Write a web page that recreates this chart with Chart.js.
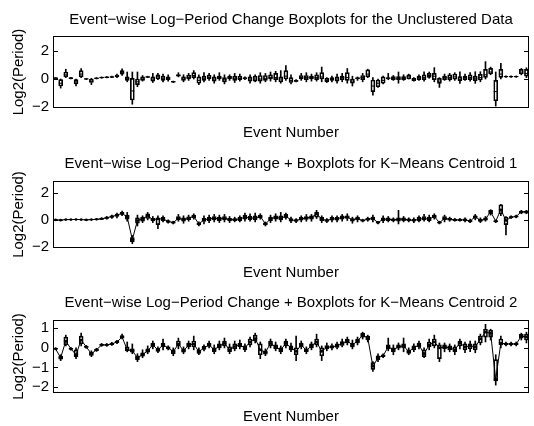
<!DOCTYPE html>
<html>
<head>
<meta charset="utf-8">
<script src="https://cdn.jsdelivr.net/npm/chart.js@4.4.0/dist/chart.umd.min.js"></script>
<style>
  body { margin: 0; background: #fff; width: 534px; height: 426px; overflow: hidden; position: relative; }
  canvas { position: absolute; left: 0; }
</style>
</head>
<body>
<canvas id="c1" width="534" height="142" style="top:0"></canvas>
<canvas id="c2" width="534" height="143" style="top:142px"></canvas>
<canvas id="c3" width="534" height="141" style="top:285px"></canvas>
<script>
// event numbers 1..93
const events = Array.from({length: 93}, (_, i) => String(i + 1));

// each box: [lower whisker, q1, median, q3, upper whisker]
const boxesAll = [
  [0,0,0.05,0.1,0.1],[-0.65,-0.5,-0.3,-0.05,0],[0.1,0.15,0.3,0.5,0.7],[0,0.02,0.05,0.1,0.12],[-0.5,-0.35,-0.2,-0.05,0],
  [0.1,0.15,0.35,0.6,0.75],[-0.05,-0.02,0,0.03,0.05],[-0.4,-0.25,-0.15,0,0.05],[0,0.02,0.05,0.08,0.1],[0.05,0.07,0.1,0.13,0.15],
  [0.08,0.1,0.12,0.15,0.18],[0.1,0.12,0.15,0.18,0.2],[0.1,0.15,0.2,0.28,0.35],[0.25,0.35,0.45,0.6,0.72],[-0.2,-0.1,0.05,0.15,0.5],
  [-1.8,-1.5,-0.85,0.05,0.5],[-0.55,-0.4,-0.2,0,0.5],[-0.15,-0.1,0,0.15,0.25],[0.1,0.12,0.15,0.18,0.2],[-0.25,-0.15,0,0.15,0.4],
  [-0.05,0,0.15,0.3,0.4],[-0.2,-0.1,0.05,0.2,0.35],[-0.15,-0.05,0.05,0.15,0.3],[-0.25,-0.22,-0.2,-0.17,-0.15],[0.15,0.2,0.25,0.32,0.45],
  [-0.2,-0.1,0,0.15,0.3],[-0.1,0,0.1,0.28,0.4],[0,0.1,0.25,0.45,0.6],[-0.4,-0.3,-0.1,0.15,0.3],[-0.2,-0.1,0.05,0.2,0.45],
  [-0.1,0,0.1,0.28,0.4],[-0.3,-0.15,0,0.15,0.3],[-0.1,0,0.1,0.2,0.45],[-0.35,-0.2,-0.05,0.1,0.3],[-0.1,0,0.1,0.2,0.3],
  [-0.25,-0.1,0.05,0.2,0.4],[-0.15,-0.05,0.05,0.2,0.35],[-0.05,0,0.05,0.1,0.15],[-0.3,-0.15,0,0.15,0.3],[-0.2,-0.15,0,0.2,0.3],
  [-0.3,-0.15,0,0.25,0.45],[-0.2,-0.1,0.05,0.25,0.4],[-0.15,0,0.1,0.3,0.5],[-0.2,-0.05,0.1,0.4,0.55],[-0.3,-0.2,0,0.15,0.6],
  [-0.1,0,0.2,0.6,0.95],[-0.35,-0.25,-0.1,0.1,0.3],[-0.2,-0.18,-0.15,-0.1,-0.05],[-0.1,0,0.1,0.25,0.4],[-0.2,-0.05,0.1,0.25,0.45],
  [-0.15,0,0.1,0.2,0.35],[-0.15,-0.05,0.1,0.3,0.45],[-0.2,0,0.15,0.45,0.85],[-0.25,-0.2,-0.1,0.05,0.1],[-0.2,-0.1,0,0.1,0.2],
  [-0.3,-0.15,0,0.15,0.35],[-0.2,-0.05,0.1,0.2,0.4],[-0.3,-0.1,0.1,0.45,0.75],[-0.5,-0.3,-0.15,0,0.2],[-0.1,0,0.05,0.1,0.15],
  [-0.2,-0.05,0.1,0.25,0.4],[0.1,0.15,0.35,0.65,0.7],[-1.15,-0.9,-0.5,-0.07,0.1],[-0.6,-0.55,-0.3,-0.07,0],[-0.35,-0.3,-0.1,0.15,0.2],
  [-0.05,0,0.05,0.1,0.4],[-0.1,-0.05,0.05,0.17,0.25],[-0.3,-0.05,0.05,0.17,0.5],[-0.1,-0.05,0.05,0.17,0.3],[0,0,0.15,0.29,0.35],
  [-0.15,-0.12,-0.05,0.05,0.1],[-0.1,-0.05,0.1,0.21,0.3],[-0.15,-0.05,0.1,0.29,0.52],[0.05,0.12,0.25,0.4,0.5],[-0.2,-0.05,0.2,0.4,0.81],
  [-0.6,-0.31,-0.15,0.05,0.1],[-0.1,-0.05,0.1,0.21,0.35],[-0.15,-0.05,0.1,0.29,0.4],[-0.1,-0.02,0.15,0.36,0.45],[-0.31,-0.12,0,0.17,0.52],
  [-0.1,-0.05,0.1,0.21,0.35],[-0.15,-0.05,0.1,0.29,0.45],[-0.31,-0.12,0.05,0.21,0.52],[-0.2,-0.07,0.1,0.33,0.52],[0,0.12,0.3,0.69,1.24],
  [0.3,0.36,0.5,0.76,0.85],[-1.93,-1.55,-0.9,-0.1,0.5],[0,0.12,0.35,0.69,1.12],[0.12,0.15,0.17,0.19,0.22],[0.12,0.15,0.17,0.19,0.22],
  [0.12,0.15,0.17,0.19,0.22],[0.3,0.36,0.5,0.69,0.75],[0.1,0.21,0.4,0.69,0.8]
];

const boxesC1 = [
  [-0.03,-0.02,0,0.02,0.03],[-0.05,-0.04,-0.02,0,0.01],[0,0.01,0.02,0.03,0.04],[0,0.01,0.02,0.03,0.04],[0,0.02,0.03,0.04,0.06],
  [0,0.01,0.02,0.03,0.04],[-0.03,-0.02,0,0.02,0.03],[0,0.01,0.02,0.03,0.04],[0,0.02,0.04,0.06,0.08],[0.02,0.04,0.08,0.12,0.15],
  [0.05,0.1,0.15,0.2,0.25],[0.1,0.18,0.25,0.3,0.35],[0.15,0.25,0.35,0.42,0.5],[0.3,0.4,0.48,0.55,0.65],[-0.1,0.05,0.2,0.35,0.55],
  [-1.75,-1.6,-1.45,-1.3,-1.15],[-0.45,-0.25,-0.05,0.15,0.35],[-0.2,-0.1,0.07,0.2,0.3],[0,0.1,0.3,0.45,0.55],[-0.2,-0.08,0.02,0.12,0.25],
  [-0.65,-0.35,0.07,0.15,0.3],[-0.15,-0.05,0.07,0.18,0.3],[-0.25,-0.18,-0.12,-0.05,0],[-0.3,-0.25,-0.2,-0.15,-0.1],[-0.1,0,0.12,0.25,0.4],
  [-0.25,-0.1,0.02,0.15,0.3],[-0.1,0.02,0.12,0.22,0.35],[0.05,0.15,0.26,0.35,0.45],[-0.45,-0.38,-0.3,-0.22,-0.15],[-0.3,-0.12,0,0.12,0.3],
  [-0.2,-0.05,0.07,0.18,0.35],[-0.15,0,0.12,0.25,0.4],[-0.2,-0.05,0.07,0.2,0.35],[-0.15,0,0.12,0.25,0.4],[-0.2,-0.08,0.02,0.12,0.25],
  [-0.15,-0.05,0.02,0.1,0.2],[-0.15,-0.05,0.07,0.2,0.3],[-0.1,0.05,0.19,0.35,0.5],[-0.1,0.02,0.14,0.28,0.45],[-0.15,0,0.12,0.3,0.5],
  [0.05,0.15,0.26,0.35,0.45],[-0.45,-0.38,-0.3,-0.22,-0.15],[-0.2,-0.05,0.07,0.2,0.35],[-0.1,0.05,0.19,0.3,0.45],[-0.15,0,0.12,0.3,0.55],
  [0.05,0.15,0.26,0.4,0.5],[-0.2,-0.1,0,0.1,0.2],[-0.2,-0.12,-0.05,0.02,0.1],[-0.15,-0.02,0.07,0.18,0.3],[-0.1,0.03,0.14,0.25,0.4],
  [-0.1,0.05,0.19,0.3,0.4],[0.1,0.2,0.43,0.55,0.7],[-0.2,-0.05,0.07,0.18,0.3],[-0.2,-0.12,-0.05,0.02,0.1],[-0.15,-0.02,0.07,0.18,0.3],
  [-0.15,-0.02,0.07,0.18,0.3],[-0.1,0.05,0.19,0.3,0.4],[-0.05,0.1,0.2,0.3,0.45],[-0.25,-0.1,0,0.1,0.2],[-0.15,0,0.1,0.2,0.3],
  [-0.15,-0.1,-0.05,0,0.05],[-0.1,-0.02,0.05,0.12,0.2],[-0.15,0,0.1,0.2,0.35],[-0.3,-0.25,-0.2,-0.15,-0.1],[-0.2,-0.05,0.05,0.15,0.3],
  [-0.15,-0.05,0.05,0.15,0.25],[-0.15,-0.08,0,0.08,0.15],[-0.3,-0.1,0.05,0.15,0.7],[-0.15,-0.05,0.05,0.15,0.25],[-0.15,-0.08,0,0.08,0.15],
  [-0.2,-0.1,-0.05,0.05,0.15],[-0.15,-0.08,0.05,0.2,0.3],[-0.1,0,0.1,0.25,0.4],[-0.15,-0.05,0.05,0.2,0.35],[0.05,0.15,0.25,0.35,0.45],
  [-0.3,-0.25,-0.2,-0.15,-0.1],[-0.15,0,0.1,0.25,0.35],[-0.1,-0.02,0.05,0.12,0.2],[-0.1,-0.05,0,0.05,0.1],[-0.1,-0.05,0,0.05,0.1],
  [-0.15,-0.08,0,0.08,0.15],[-0.2,-0.15,-0.1,-0.02,0.05],[0,0.1,0.25,0.3,0.4],[-0.2,-0.12,-0.05,0.05,0.15],[-0.1,-0.02,0.05,0.15,0.25],
  [0.35,0.45,0.6,0.7,0.75],[-0.2,-0.15,-0.1,-0.05,0],[0.3,0.45,0.75,1.1,1.15],[-1.1,-0.35,-0.05,0.2,0.25],[0.1,0.15,0.2,0.25,0.3],
  [0.15,0.2,0.25,0.3,0.35],[0.45,0.5,0.6,0.65,0.7],[0.45,0.5,0.6,0.65,0.7]
];

const boxesC2 = [
  [-0.1,-0.07,-0.05,-0.02,0],[-0.65,-0.58,-0.5,-0.42,-0.35],[0.1,0.15,0.35,0.55,0.65],[-0.12,-0.08,-0.05,-0.02,0.02],[-0.55,-0.45,-0.35,-0.1,0],
  [0.1,0.2,0.4,0.6,0.75],[-0.02,0.02,0.05,0.08,0.12],[-0.45,-0.38,-0.3,-0.22,-0.15],[-0.18,-0.14,-0.1,-0.06,-0.02],[0.08,0.12,0.15,0.18,0.22],
  [0.08,0.12,0.15,0.18,0.22],[0.12,0.16,0.2,0.24,0.28],[0.22,0.26,0.3,0.34,0.38],[0.45,0.5,0.55,0.62,0.7],[-0.2,-0.15,-0.1,0.05,0.3],
  [-0.3,-0.22,-0.15,-0.05,0.2],[-0.7,-0.6,-0.5,-0.4,-0.3],[-0.5,-0.42,-0.35,-0.25,-0.1],[-0.3,-0.22,-0.15,-0.05,0.1],[-0.05,0.05,0.15,0.25,0.35],
  [-0.25,-0.18,-0.1,-0.02,0.05],[-0.1,0.05,0.15,0.25,0.45],[-0.1,-0.05,0,0.05,0.1],[-0.4,-0.3,-0.2,-0.1,0],[-0.05,0.1,0.2,0.35,0.5],
  [-0.3,-0.22,-0.15,-0.05,0.05],[-0.05,0.05,0.15,0.25,0.35],[-0.1,0.05,0.2,0.35,0.6],[-0.35,-0.28,-0.2,-0.1,0],[-0.15,-0.08,0,0.08,0.15],
  [0,0.08,0.15,0.25,0.35],[-0.3,-0.2,-0.1,0,0.15],[-0.1,0,0.1,0.2,0.35],[0,0.1,0.23,0.35,0.5],[-0.3,-0.2,-0.1,0.05,0.2],
  [-0.15,-0.05,0.07,0.2,0.35],[-0.05,0.05,0.15,0.25,0.4],[-0.2,-0.1,0,0.1,0.2],[0.05,0.15,0.3,0.45,0.55],[0.25,0.35,0.48,0.65,0.75],
  [-0.55,-0.35,-0.1,0.2,0.3],[-0.4,-0.32,-0.23,-0.15,-0.05],[0,0.1,0.23,0.35,0.45],[-0.15,-0.05,0.05,0.15,0.3],[-0.3,-0.2,-0.1,0,0.1],
  [0,0.1,0.23,0.35,0.45],[-0.2,-0.1,0,0.1,0.25],[-0.65,-0.35,-0.18,0,0.6],[-0.05,0.05,0.15,0.25,0.35],[-0.3,-0.2,-0.13,-0.05,0.05],
  [-0.1,0,0.1,0.2,0.3],[0.05,0.15,0.3,0.45,0.7],[-0.65,-0.4,-0.18,0,0.1],[-0.15,-0.05,0.03,0.12,0.25],[-0.1,-0.02,0.05,0.12,0.2],
  [-0.05,0.02,0.1,0.2,0.3],[0.05,0.12,0.23,0.32,0.45],[0.15,0.25,0.35,0.45,0.55],[-0.05,0.05,0.15,0.25,0.4],[0.15,0.25,0.35,0.45,0.55],
  [0.45,0.55,0.65,0.75,0.8],[0.3,0.4,0.5,0.6,0.65],[-1.2,-1.1,-0.95,-0.75,-0.7],[-0.7,-0.6,-0.5,-0.4,-0.3],[-0.5,-0.45,-0.4,-0.35,-0.3],
  [-0.15,-0.05,0.05,0.15,0.5],[-0.35,-0.2,-0.1,0,0.15],[-0.1,-0.02,0.05,0.15,0.25],[-0.2,0,0.1,0.2,0.5],[-0.35,-0.28,-0.2,-0.1,0],
  [-0.2,-0.1,0,0.1,0.2],[-0.05,0.05,0.15,0.25,0.35],[-0.5,-0.45,-0.3,-0.1,0],[-0.1,0.05,0.15,0.3,0.45],[0,0.1,0.3,0.45,0.65],
  [-0.7,-0.55,0,0.15,0.25],[-0.2,-0.05,0.05,0.15,0.25],[-0.2,-0.1,0,0.1,0.2],[-0.35,-0.2,-0.1,0.05,0.15],[-0.05,0.1,0.25,0.35,0.45],
  [-0.25,-0.1,0.05,0.2,0.3],[-0.2,-0.05,0.1,0.2,0.35],[-0.25,-0.1,0.05,0.2,0.35],[0.15,0.25,0.45,0.6,0.7],[0.3,0.55,0.8,0.95,1.2],
  [0.4,0.55,0.75,0.9,0.95],[-1.9,-1.68,-1.6,-0.6,-0.35],[0,0.15,0.25,0.45,0.6],[0.1,0.15,0.2,0.25,0.3],[0.1,0.15,0.2,0.25,0.3],
  [0.1,0.15,0.2,0.25,0.3],[0.4,0.5,0.6,0.7,0.75],[0.25,0.4,0.55,0.7,0.8]
];

const ticksAB = [-2, 0, 2];
const ticksC = [-2, -1, 0, 1];

Chart.defaults.font.family = '"Liberation Sans", Arial, Helvetica, sans-serif';
Chart.defaults.font.size = 15;
Chart.defaults.color = '#000';

// box outline + inward y ticks on both sides, like a matlab axes
const frame = {
  id: 'frame',
  afterDatasetsDraw(chart) {
    const {ctx, chartArea: a} = chart;
    const y = chart.scales.y;
    ctx.save();
    ctx.strokeStyle = '#000';
    ctx.lineWidth = 1;
    ctx.strokeRect(a.left + 0.5, a.top + 0.5, a.right - a.left - 1, a.bottom - a.top - 1);
    ctx.beginPath();
    y.ticks.forEach(t => {
      const py = Math.round(y.getPixelForValue(t.value)) + 0.5;
      ctx.moveTo(a.left, py); ctx.lineTo(a.left + 5, py);
      ctx.moveTo(a.right, py); ctx.lineTo(a.right - 5, py);
    });
    ctx.stroke();
    ctx.restore();
  }
};

function makeChart(id, boxes, yTicks, yMin, yMax, title, withLine, lay) {
  const ds = [
    { type: 'bar', data: boxes.map(b => [b[0], b[1]]), backgroundColor: '#000', borderWidth: 0, barThickness: 1, grouped: false, order: 4 },
    { type: 'bar', data: boxes.map(b => [b[3], b[4]]), backgroundColor: '#000', borderWidth: 0, barThickness: 1, grouped: false, order: 4 },
    { type: 'bar', data: boxes.map(b => [b[1], b[3]]), backgroundColor: 'rgba(0,0,0,0)', borderColor: '#000',
      borderWidth: 1, borderSkipped: false, barThickness: 4, grouped: false, order: 2 },
    { type: 'line', data: boxes.map(b => b[2]), showLine: false, pointStyle: 'line', pointRadius: 2,
      borderColor: '#000', borderWidth: 1, order: 1 }
  ];
  if (withLine) {
    ds.push({ type: 'line', data: boxes.map(b => b[2]), borderColor: '#000', borderWidth: 1, tension: 0,
      pointRadius: 1.3, pointBackgroundColor: '#000', pointBorderWidth: 0, order: 3 });
  }
  new Chart(document.getElementById(id), {
    data: { labels: events, datasets: ds },
    options: {
      responsive: false,
      animation: false,
      layout: { padding: { left: 0, right: 1, top: 0, bottom: 0 } },
      plugins: {
        legend: { display: false },
        tooltip: { enabled: false },
        title: { display: true, text: title, fullSize: false, font: { size: 15, weight: 'normal' },
          padding: { top: lay.tTop, bottom: lay.tBot } }
      },
      scales: {
        x: {
          type: 'category', offset: true,
          grid: { display: false }, border: { display: false },
          ticks: { display: false },
          title: { display: true, text: 'Event Number', padding: { top: 0, bottom: lay.xBot } },
          afterFit: s => { s.height = lay.xH; }
        },
        y: {
          min: yMin, max: yMax,
          grid: { display: false, drawTicks: false }, border: { display: false },
          ticks: { padding: 4, font: { size: 15 }, callback: v => String(v).replace('-', '\u2212') },
          afterBuildTicks: s => { s.ticks = yTicks.map(v => ({ value: v })); },
          title: { display: true, text: 'Log2(Period)', padding: { top: 9.5, bottom: 0 } },
          afterFit: s => { s.width = 53; }
        }
      }
    },
    plugins: [frame]
  });
}

makeChart('c1', boxesAll, ticksAB, -2.07, 3.07,
  'Event\u2212wise Log\u2212Period Change Boxplots for the Unclustered Data', false,
  { tTop: 11, tBot: 7, xH: 34, xBot: 0 });
makeChart('c2', boxesC1, ticksAB, -2.07, 2.86,
  'Event\u2212wise Log\u2212Period Change + Boxplots for K\u2212Means Centroid 1', true,
  { tTop: 13, tBot: 8, xH: 37, xBot: 3 });
makeChart('c3', boxesC2, ticksC, -2.3, 1.42,
  'Event\u2212wise Log\u2212Period Change + Boxplots for K\u2212Means Centroid 2', true,
  { tTop: 9, tBot: 8, xH: 33, xBot: 0 });
</script>
</body>
</html>
